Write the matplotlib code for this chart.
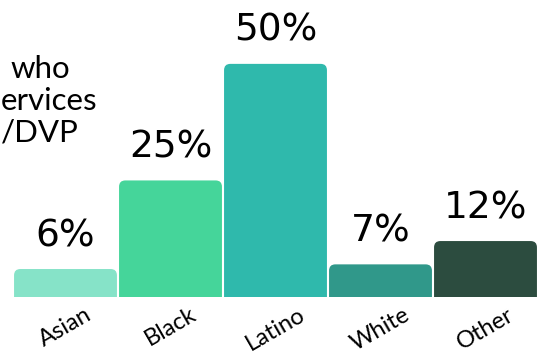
import matplotlib
matplotlib.use("Agg")
import matplotlib.pyplot as plt
from matplotlib.patches import FancyBboxPatch

# data
groups = ["Asian", "Black", "Latino", "White", "Other"]
shares = [6, 25, 50, 7, 12]
colors = ["#86E3C8", "#45D59A", "#2FB9AC", "#30988A", "#2C4C3F"]

fig = plt.figure(figsize=(5.45, 3.57), dpi=100)
# axes placed so the baseline sits at y=297px and bars span 13..538px
ax = fig.add_axes([13 / 545, 60 / 357, 525 / 545, 297 / 357])
ax.set_xlim(-0.5, 4.5)
ax.set_ylim(0, 63.7)

width = 0.98
px_x = 525 / 5.0
px_y = 297 / 63.7
for i, (v, c) in enumerate(zip(shares, colors)):
    # rounded top, square bottom hidden by the axes clip
    box = FancyBboxPatch((i - width / 2, -5), width, v + 5,
                         boxstyle="round,pad=0,rounding_size=0.06",
                         mutation_aspect=px_x / px_y,
                         facecolor=c, edgecolor="none", clip_on=True)
    ax.add_patch(box)
    ax.text(i, v + 3.2, f"{v}%", ha="center", va="bottom",
            fontsize=27, fontfamily="DejaVu Sans", color="black")

ax.set_xticks(range(len(groups)))
ax.set_xticklabels(groups, rotation=30, fontsize=17, fontfamily="Lato",
                   color="black", ha="center", va="top")
ax.tick_params(axis="x", length=0, pad=5)
ax.set_yticks([])
for s in ax.spines.values():
    s.set_visible(False)

# title fragments (clipped at the left edge in the original)
title_kw = dict(fontsize=22.5, fontfamily="Lato", color="black",
                ha="left", va="baseline")
fig.text(10 / 545, 1 - 78 / 357, "who", **title_kw)
fig.text(1 / 545, 1 - 110 / 357, "ervices", **title_kw)
fig.text(1 / 545, 1 - 142 / 357, "/DVP", **title_kw)

fig.savefig("out.png", dpi=100)
